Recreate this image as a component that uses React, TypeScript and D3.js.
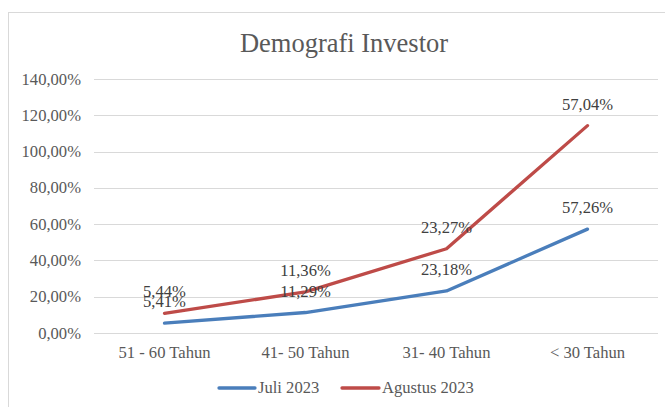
import React from "react";
import * as d3 from "d3";

const categories = ["51 - 60 Tahun", "41- 50 Tahun", "31- 40 Tahun", "< 30 Tahun"];
const juli = [5.41, 11.29, 23.18, 57.26];
const agustus = [5.44, 11.36, 23.27, 57.04];
const yTicks = [0, 20, 40, 60, 80, 100, 120, 140];
const seriesNames = ["Juli 2023", "Agustus 2023"];
const colors = ["#4A7EBB", "#BE4B48"];

const W = 665, H = 407;
const fmt = (v: number) => v.toFixed(2).replace(".", ",") + "%";

export default function App() {
  const x = d3.scaleBand<string>().domain(categories).range([94, 658]);
  const y = d3.scaleLinear().domain([0, 140]).range([333, 79]);
  const cx = (c: string) => (x(c) as number) + x.bandwidth() / 2;
  const stacked = agustus.map((v, i) => v + juli[i]);
  const line = d3.line<[number, number]>().x(d => d[0]).y(d => d[1]);
  const juliPts: [number, number][] = juli.map((v, i) => [cx(categories[i]), y(v)]);
  const agPts: [number, number][] = stacked.map((v, i) => [cx(categories[i]), y(v)]);
  const font = '"Liberation Serif", "Times New Roman", serif';
  const tc = "#595959";
  const fs = 16.6;
  const st = { fontFamily: font };
  return (
    <svg width={W} height={H} style={{ position: "absolute", left: 0, top: 0, fontFamily: font }}>
      <rect x={0} y={0} width={W} height={H} fill="#fff" />
      <rect x={8.5} y={12.5} width={W + 10} height={H + 10} fill="#fff" stroke="#d9d9d9" />
      <text x={344} y={52} textAnchor="middle" fontSize={26.5} fill={tc} style={st}>Demografi Investor</text>
      {yTicks.map(t => (
        <g key={t}>
          <line x1={94} x2={658} y1={Math.round(y(t)) + 0.5} y2={Math.round(y(t)) + 0.5} stroke="#d9d9d9" />
          <text x={81} y={y(t) + 5.5} textAnchor="end" fontSize={fs} fill={tc} style={st}>{fmt(t)}</text>
        </g>
      ))}
      {categories.map(c => (
        <text key={c} x={cx(c)} y={358} textAnchor="middle" fontSize={fs} fill={tc} style={st}>{c}</text>
      ))}
      <path d={line(juliPts) || ""} fill="none" stroke={colors[0]} strokeWidth={3.3} strokeLinejoin="round" strokeLinecap="round" />
      <path d={line(agPts) || ""} fill="none" stroke={colors[1]} strokeWidth={3.3} strokeLinejoin="round" strokeLinecap="round" />
      {juli.map((v, i) => (
        <text key={"j" + i} x={juliPts[i][0]} y={juliPts[i][1] - 16} textAnchor="middle" fontSize={fs} fill="#404040" style={st}>{fmt(v)}</text>
      ))}
      {agustus.map((v, i) => (
        <text key={"a" + i} x={agPts[i][0]} y={agPts[i][1] - 16} textAnchor="middle" fontSize={fs} fill="#404040" style={st}>{fmt(v)}</text>
      ))}
      <g>
        <line x1={219} x2={255} y1={388} y2={388} stroke={colors[0]} strokeWidth={3.3} strokeLinecap="round" />
        <text x={258} y={393} fontSize={fs} fill={tc} style={st}>{seriesNames[0]}</text>
        <line x1={342} x2={379} y1={388} y2={388} stroke={colors[1]} strokeWidth={3.3} strokeLinecap="round" />
        <text x={382} y={393} fontSize={fs} fill={tc} style={st}>{seriesNames[1]}</text>
      </g>
    </svg>
  );
}
